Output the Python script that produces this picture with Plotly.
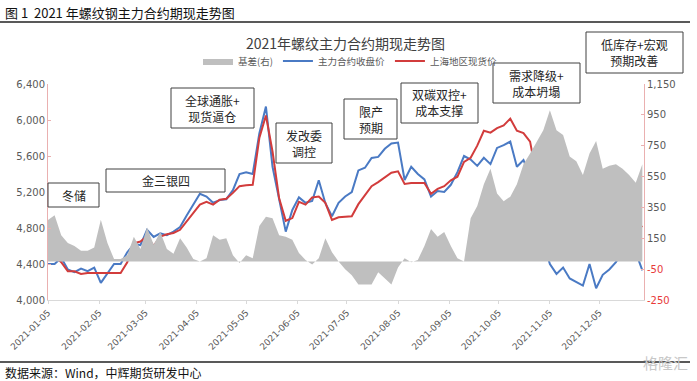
import pandas as pd
import plotly.graph_objects as go

# ---------------- data (one value every 4 days) ----------------
dates = pd.date_range("2021-01-05", periods=91, freq="4D")

futures = [4400, 4400, 4470, 4340, 4310, 4350, 4320, 4360, 4190, 4300,
           4400, 4400, 4530, 4620, 4610, 4780, 4700, 4740, 4720, 4760,
           4810, 4940, 5060, 5180, 5150, 5080, 5110, 5120, 5220, 5400,
           5420, 5400, 5850, 6150, 5480, 5120, 4760, 5000, 5140, 5080,
           5100, 5330, 5075, 4930, 5080, 5150, 5200, 5440, 5470, 5578,
           5590, 5680, 5740, 5750, 5333, 5480, 5400, 5340, 5150, 5210,
           5200, 5280, 5420, 5600, 5560, 5490, 5580, 5510, 5690, 5720,
           5760, 5480, 5555, 5380, 4900, 4640, 4400, 4290, 4360, 4240,
           4200, 4160, 4400, 4130, 4280, 4340, 4420, 4540, 4490, 4530,
           4330]

spot = [4500, 4490, 4420, 4320, 4320, 4290, 4300, 4300, 4300, 4300,
        4300, 4300, 4420, 4630, 4650, 4710, 4600, 4704, 4730, 4745,
        4780, 4870, 4960, 5060, 5090, 5060, 5115, 5125, 5190, 5265,
        5275, 5280, 5800, 6050, 5650, 5130, 4880, 4910, 5090, 5060,
        5140, 5150, 5080, 4890, 4920, 4926, 4930, 5065, 5160, 5265,
        5310, 5365, 5415, 5430, 5290, 5300, 5300, 5300, 5180, 5235,
        5265, 5330, 5370, 5535, 5580, 5715, 5880, 5860, 5910, 5940,
        6015, 5880, 5855, 5760, 5370, 5230, 5080, 5010, 4760, 4860,
        4760, 4810, 4800, 4815, 4840, 4870, 4840, 4890, 4940, 4880,
        4810]

basis = [268, 300, 170, 120, 100, 70, 70, 90, 270, 120,
         15, 15, 40, 160, 80, 220, 110, 190, 80, 50,
         150, 90, 15, 0, 20, 170, 140, 150, 40, -10,
         40, 20, 230, 290, 280, 170, 160, 140, 55, 10,
         -20, 20, 150, 60, 0, -50, -90, -150, -150, -150,
         -70, -110, -150, -40, 20, -5, 10, 100, 210, 160,
         190, 100, 20, 0, 280, 360, 500, 600, 440, 390,
         420, 500, 630, 700, 780, 850, 980, 850, 820, 680,
         650, 560, 700, 780, 600, 620, 630, 600, 560, 510,
         630]

tick_dates = ["2021-01-05", "2021-02-05", "2021-03-05", "2021-04-05", "2021-05-05",
              "2021-06-05", "2021-07-05", "2021-08-05", "2021-09-05", "2021-10-05",
              "2021-11-05", "2021-12-05"]
left_ticks = [4000, 4400, 4800, 5200, 5600, 6000, 6400]
right_ticks = [-250, -50, 150, 350, 550, 750, 950, 1150]

notes = [
    ("冬储", 48, 183, 99, 207),
    ("金三银四", 106, 169, 225, 192),
    ("全球通胀+<br>现货逼仓", 171, 88, 254, 128),
    ("发改委<br>调控", 276, 123, 332, 163),
    ("限产<br>预期", 344, 99, 397, 139),
    ("双碳双控+<br>成本支撑", 401, 83, 478, 123),
    ("需求降级+<br>成本坍塌", 493, 63, 580, 103),
    ("低库存+宏观<br>预期改善", 586, 32, 683, 73),
]

# ---------------- layout helpers (pixel -> paper) ----------------
L, R, T, B = 48, 644, 84, 300
W, H = 697, 381


def px(x):
    return (x - L) / (R - L)


def py(y):
    return (B - y) / (B - T)


FONT = "Noto Sans CJK SC"
BLUE = "#4a7ac4"
RED = "#d23c3c"
GREY = "#bfbfbf"

fig = go.Figure()

fig.add_trace(go.Scatter(
    x=dates, y=basis, name="基差(右)", yaxis="y2",
    mode="lines", line=dict(width=0, color=GREY),
    fill="tozeroy", fillcolor=GREY))
fig.add_trace(go.Scatter(
    x=dates, y=futures, name="主力合约收盘价", mode="lines",
    line=dict(color=BLUE, width=2)))
fig.add_trace(go.Scatter(
    x=dates, y=spot, name="上海地区现货价", mode="lines",
    line=dict(color=RED, width=2)))

right_text = []
for v in right_ticks:
    s = f"{v:,}"
    if v < 0:
        s = f"<span style='color:#e83a3a'>{s}</span>"
    right_text.append(s)

shapes = []
annotations = []
for text, x0, y0, x1, y1 in notes:
    shapes.append(dict(type="rect", xref="paper", yref="paper",
                       x0=px(x0), x1=px(x1), y0=py(y1), y1=py(y0),
                       line=dict(color="#404040", width=1), fillcolor="white", layer="above"))
    annotations.append(dict(text=text, xref="paper", yref="paper",
                            x=px((x0 + x1) / 2), y=py((y0 + y1) / 2),
                            xanchor="center", yanchor="middle", showarrow=False,
                            font=dict(family=FONT, size=12, color="#262626")))

# header / footer rules
shapes.append(dict(type="line", xref="paper", yref="paper", x0=px(0), x1=px(690),
                   y0=py(22), y1=py(22), line=dict(color="#222", width=1.5)))
shapes.append(dict(type="line", xref="paper", yref="paper", x0=px(0), x1=px(690),
                   y0=py(362), y1=py(362), line=dict(color="#222", width=1.5)))

annotations += [
    dict(text="图 1  2021 年螺纹钢主力合约期现走势图", xref="paper", yref="paper",
         x=px(3), y=py(12), xanchor="left", yanchor="middle", showarrow=False,
         font=dict(family=FONT, size=13, color="#111")),
    dict(text="2021年螺纹主力合约期现走势图", xref="paper", yref="paper",
         x=px(345), y=py(43), xanchor="center", yanchor="middle", showarrow=False,
         font=dict(family=FONT, size=14, color="#404040")),
    dict(text="数据来源：Wind，中辉期货研发中心", xref="paper", yref="paper",
         x=px(3), y=py(372), xanchor="left", yanchor="middle", showarrow=False,
         font=dict(family=FONT, size=12, color="#111")),
    dict(text="格隆汇", xref="paper", yref="paper",
         x=px(690), y=py(362), xanchor="right", yanchor="middle", showarrow=False,
         font=dict(family=FONT, size=15, color="#c8c8c8")),
]

fig.update_layout(
    template="none",
    width=W, height=H,
    margin=dict(l=L, r=W - R, t=T, b=H - B, autoexpand=False),
    paper_bgcolor="white", plot_bgcolor="white",
    font=dict(family=FONT, size=10, color="#595959"),
    showlegend=True,
    legend=dict(orientation="h", x=px(350), y=py(61), xanchor="center", yanchor="middle",
                font=dict(family=FONT, size=9.5, color="#595959"),
                itemwidth=30, tracegroupgap=0, bgcolor="rgba(0,0,0,0)"),
    xaxis=dict(type="date", range=["2021-01-05", "2022-01-01"], automargin=False,
               tickvals=tick_dates, tickformat="%Y-%m-%d", tickangle=-45,
               showgrid=False, zeroline=False, showline=True, linecolor="#d9d9d9",
               ticks="outside", ticklen=3, tickcolor="#d9d9d9",
               tickfont=dict(family="DejaVu Sans", size=9, color="#595959")),
    yaxis=dict(range=[4000, 6400], tickvals=left_ticks, tickformat=",", automargin=False,
               showgrid=False, zeroline=False, showline=True, linecolor="#eab0b0",
               ticks="inside", ticklen=3, tickcolor="#eab0b0",
               tickfont=dict(family="DejaVu Sans", size=10, color="#595959")),
    yaxis2=dict(range=[-250, 1150], tickvals=right_ticks, ticktext=right_text,
                overlaying="y", side="right", automargin=False,
                showgrid=False, zeroline=False, showline=True, linecolor="#eab0b0",
                ticks="inside", ticklen=3, tickcolor="#eab0b0",
                tickfont=dict(family="DejaVu Sans", size=10, color="#595959")),
    shapes=shapes, annotations=annotations,
)

fig.write_html("out.html", config={"displayModeBar": False},
               post_script="document.body.style.margin='0px';document.body.style.overflow='hidden';")
